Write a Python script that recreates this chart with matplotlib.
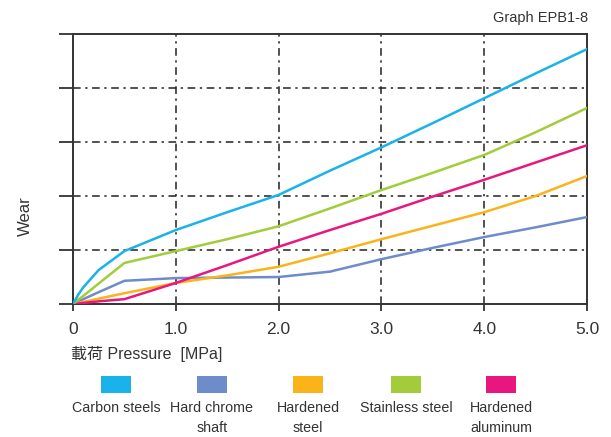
import matplotlib.pyplot as plt
from matplotlib.patches import Rectangle

# pressure [MPa]
pressure = [0, 0.05, 0.1, 0.25, 0.5, 1.0, 1.5, 2.0, 2.5, 3.0, 3.5, 4.0, 4.5, 5.0]

# wear (relative units)
carbon_steels = [0, 0.17, 0.31, 0.63, 0.98, 1.37, 1.70, 2.02, 2.47, 2.90, 3.35, 3.81, 4.27, 4.72]
hard_chrome = [0, 0.05, 0.09, 0.22, 0.43, 0.48, 0.49, 0.50, 0.60, 0.83, 1.04, 1.24, 1.42, 1.61]
hardened_steel = [0, 0.02, 0.04, 0.10, 0.20, 0.39, 0.53, 0.69, 0.94, 1.20, 1.45, 1.70, 2.00, 2.37]
stainless_steel = [0, 0.08, 0.15, 0.38, 0.76, 0.98, 1.20, 1.44, 1.77, 2.11, 2.43, 2.76, 3.18, 3.63]
hardened_alu = [0, 0.01, 0.02, 0.05, 0.09, 0.39, 0.72, 1.06, 1.37, 1.67, 1.99, 2.30, 2.62, 2.94]

series = [carbon_steels, hard_chrome, hardened_steel, stainless_steel, hardened_alu]
labels = ["Carbon steels", "Hard chrome\nshaft", "Hardened\nsteel", "Stainless steel", "Hardened\naluminum"]
colors = ["#1ab2ea", "#6e8ccb", "#fbb31a", "#a2cc3a", "#e8177f"]
# order the lines are drawn in (pink on top of orange etc.)
draw_order = [1, 2, 4, 3, 0]

xticks = [0, 1, 2, 3, 4, 5]
xticklabels = ["0", "1.0", "2.0", "3.0", "4.0", "5.0"]

fnt = ["Liberation Sans", "Noto Sans CJK JP", "DejaVu Sans"]
txtc = "#333333"

fig = plt.figure(figsize=(6.11, 4.37), dpi=100)
ax = fig.add_axes([0.1195, 0.3043, 0.8412, 0.6179])

for i in draw_order:
    ax.plot(pressure, series[i], color=colors[i], lw=1.8, solid_capstyle="round", zorder=3)

ax.set_xlim(0, 5)
ax.set_ylim(0, 5)
ax.set_xticks(xticks)
ax.set_xticklabels(xticklabels, fontsize=12.5, family=fnt, color=txtc)
ax.set_yticks(range(6))
ax.set_yticklabels([])
ax.tick_params(axis="x", direction="out", length=5, width=1.3, color=txtc, pad=8)
ax.tick_params(axis="y", direction="out", length=10, width=1.3, color=txtc)
for s in ax.spines.values():
    s.set_linewidth(1.4)
    s.set_color(txtc)

# dash-dot grid
grid_ls = (0, (5, 3, 1.5, 3))
for v in [1, 2, 3, 4]:
    ax.axvline(v, color="#222222", lw=1.1, ls=grid_ls, zorder=1)
    ax.axhline(v, color="#222222", lw=1.1, ls=grid_ls, zorder=1)

fig.text(25 / 611, 1 - 216 / 437, "Wear", fontsize=12, family=fnt, color=txtc,
         rotation=90, ha="center", va="center")
fig.text(0.117, 0.19, "載荷 Pressure  [MPa]", fontsize=11.5, family=fnt, color=txtc,
         ha="left", va="center")
fig.text(0.962, 0.958, "Graph EPB1-8", fontsize=10.5, family=fnt, color=txtc,
         ha="right", va="center")

# legend: swatch above each label
centers = [116, 212, 308, 406, 501]
for cx, lab, c in zip(centers, labels, colors):
    fig.add_artist(Rectangle(((cx - 15) / 611, 1 - 393 / 437), 30 / 611, 17 / 437,
                             transform=fig.transFigure, color=c, lw=0))
    fig.text(cx / 611, 1 - 401 / 437, lab, fontsize=10.3, family=fnt, color=txtc,
             ha="center", va="top", linespacing=1.55)

fig.savefig("out.png", dpi=100)
